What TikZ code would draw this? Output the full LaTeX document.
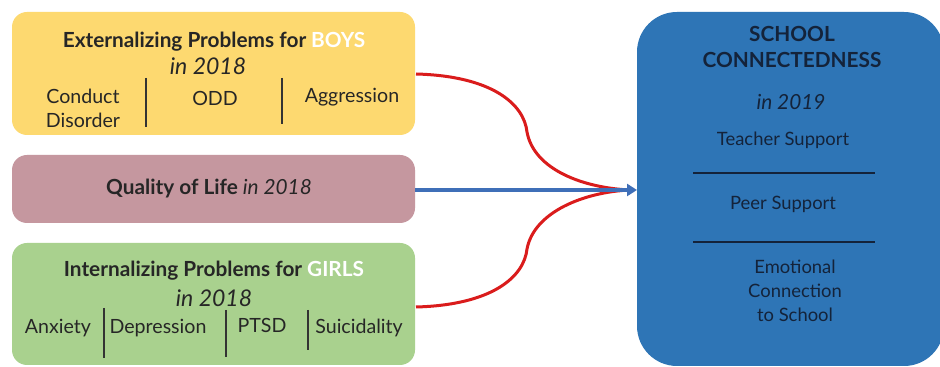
\documentclass[tikz,border=0pt]{standalone}
\usepackage{fontspec}
\setmainfont{Lato}
\usetikzlibrary{arrows.meta}
\definecolor{boxyellow}{HTML}{FDD970}
\definecolor{boxpink}{HTML}{C5979F}
\definecolor{boxgreen}{HTML}{A9D18E}
\definecolor{boxblue}{HTML}{2E75B6}
\definecolor{arrowblue}{HTML}{3F6FB8}
\definecolor{linkred}{HTML}{DA1C1C}
\definecolor{inktext}{HTML}{262626}
\definecolor{navytext}{HTML}{14233A}
\begin{document}
\begin{tikzpicture}[x=0.5pt,y=-0.5pt,
  panel/.style={rounded corners=7.5pt, draw=none},
  title/.style={font=\fontsize{10.4}{12}\selectfont\bfseries, text=inktext, inner sep=0pt},
  yeartag/.style={font=\fontsize{11.5}{13}\selectfont\itshape, text=inktext, inner sep=0pt},
  item/.style={font=\fontsize{9.8}{12}\selectfont, text=inktext, align=center, inner sep=0pt},
  bluetxt/.style={font=\fontsize{9.2}{12}\selectfont, text=navytext, align=center, inner sep=0pt},
  divider/.style={draw=black!80, line width=0.6pt},
  link/.style={draw=linkred, line width=1.5pt},
]
\useasboundingbox (0,0) rectangle (940,367);
\fill[white] (0,0) rectangle (940,367);

% predictor panels
\fill[panel, boxyellow] (12,12) rectangle (415,135);
\fill[panel, boxpink] (12,155) rectangle (415,223);
\fill[panel, boxgreen] (12,243) rectangle (415,365);
% outcome panel
\fill[boxblue, rounded corners=20pt] (637,12) rectangle (944,366);

% node anchors on the panels
\coordinate (ext) at (416,74);
\coordinate (qol) at (415,190);
\coordinate (int) at (416,307);
\coordinate (sc) at (637,190);
\coordinate (meet) at (630,190);

% externalizing panel
\node[title] (exttitle) at (214,42) {Externalizing Problems for \textcolor{white}{BOYS}};
\node[yeartag] (extyear) at (208,66) {in 2018};
\node[item] (conduct) at (83,108) {Conduct\\Disorder};
\node[item] (odd) at (215,98) {ODD};
\node[item] (aggr) at (352,97) {Aggression};
\coordinate (ed1a) at (146,78); \coordinate (ed1b) at (146,127);
\coordinate (ed2a) at (282,78); \coordinate (ed2b) at (282,124);
\draw[divider] (ed1a) -- (ed1b);
\draw[divider] (ed2a) -- (ed2b);

% quality of life panel
\node[title] (qoltitle) at (209,189) {Quality of Life \mdseries\itshape in 2018};

% internalizing panel
\node[title] (inttitle) at (214,271) {Internalizing Problems for \textcolor{white}{GIRLS}};
\node[yeartag] (intyear) at (214,298) {in 2018};
\node[item] (anx) at (58,328) {Anxiety};
\node[item] (dep) at (158,328) {Depression};
\node[item] (ptsd) at (262,325) {PTSD};
\node[item] (sui) at (359,328) {Suicidality};
\coordinate (id1a) at (104,308); \coordinate (id1b) at (104,358);
\coordinate (id2a) at (226,310); \coordinate (id2b) at (226,357);
\coordinate (id3a) at (308,310); \coordinate (id3b) at (308,350);
\draw[divider] (id1a) -- (id1b);
\draw[divider] (id2a) -- (id2b);
\draw[divider] (id3a) -- (id3b);

% school connectedness panel
\node[title, text=navytext, align=center, font=\fontsize{10.4}{13}\selectfont\bfseries] (sctitle) at (792,47) {SCHOOL\\CONNECTEDNESS};
\node[yeartag, text=navytext, font=\fontsize{10.4}{12}\selectfont\itshape] (scyear) at (791,102) {in 2019};
\node[bluetxt] (teach) at (783,140) {Teacher Support};
\node[bluetxt] (peer) at (783,204) {Peer Support};
\node[bluetxt] (emo) at (795,291) {Emotional\\Connection\\to School};
\coordinate (sl1a) at (693,173); \coordinate (sl1b) at (875,173);
\coordinate (sl2a) at (693,242); \coordinate (sl2b) at (875,242);
\draw[draw=navytext, line width=0.6pt] (sl1a) -- (sl1b);
\draw[draw=navytext, line width=0.6pt] (sl2a) -- (sl2b);

% paths into school connectedness
\draw[link] (ext) .. controls (492,76) and (524,104) .. (527,132)
            .. controls (534,170) and (584,188) .. (meet);
\draw[link] (int) .. controls (492,305) and (524,277) .. (527,249)
            .. controls (534,212) and (584,192) .. (meet);
\draw[draw=arrowblue, line width=2pt, -{Triangle[length=5pt,width=6pt]}] (qol) -- (sc);
\end{tikzpicture}
\end{document}
